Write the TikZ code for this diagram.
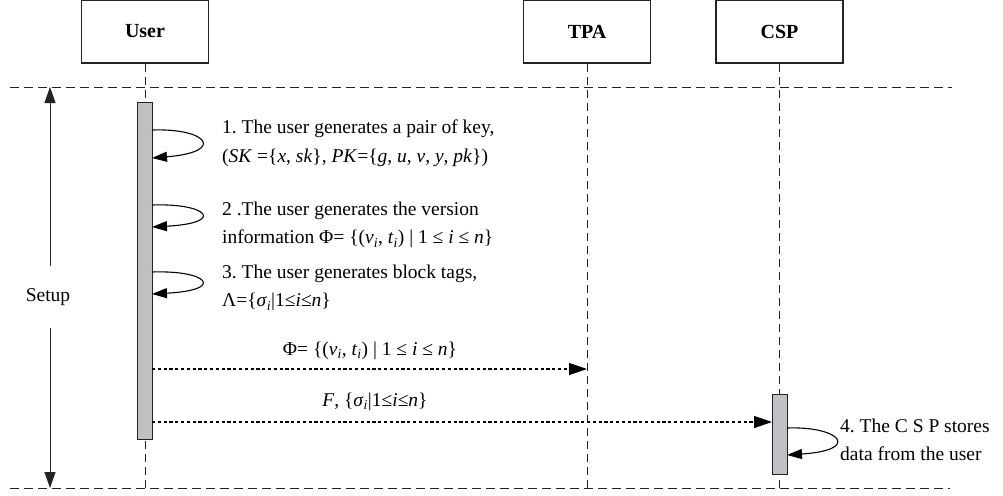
\documentclass[tikz,border=0pt]{standalone}
\usepackage{fontspec}
\setmainfont{Liberation Serif}
\usetikzlibrary{arrows.meta}
\frenchspacing
\newcommand{\isub}{\textsubscript{\textit{i}}}
\definecolor{barfill}{RGB}{192,192,196}
\definecolor{ink}{RGB}{35,35,35}
\tikzset{
  actor/.style={draw=ink, line width=1.2pt, fill=white, minimum width=127pt,
    minimum height=63pt, font=\fontsize{20}{22}\selectfont\bfseries},
  lifeline/.style={draw=ink, line width=0.9pt, dash pattern=on 8pt off 5pt},
  divider/.style={draw=ink, line width=0.9pt, dash pattern=on 9pt off 5pt},
  actbar/.style={draw=ink, line width=0.9pt, fill=barfill, minimum width=15pt,
    inner sep=0pt, anchor=north},
  selfloop/.style={draw=black, line width=1.1pt, -{Triangle[length=15pt,width=10pt]}},
  msg/.style={draw=black, line width=1.3pt, dash pattern=on 3.2pt off 2.6pt,
    -{Triangle[length=18pt,width=12pt]}},
  span/.style={draw=ink, line width=1pt, -{Triangle[length=16pt,width=11pt]}},
  note/.style={anchor=west, align=left, inner sep=0pt,
    font=\fontsize{19.5}{28.5}\selectfont},
  label/.style={inner sep=0pt, font=\fontsize{19.5}{22}\selectfont},
}
\begin{document}
\begin{tikzpicture}[x=1pt,y=-1pt]
\useasboundingbox (0,0) rectangle (1003,495);

% participants
\node[actor] (user) at (145,31.5) {User};
\node[actor] (tpa) at (587,31.5) {TPA};
\node[actor] (csp) at (779.5,31.5) {CSP};

% lifelines
\coordinate (userend) at (145,492);
\coordinate (tpaend) at (587,492);
\coordinate (cspend) at (779.5,492);
\draw[lifeline] (user.south) -- (userend);
\draw[lifeline] (tpa.south) -- (tpaend);
\draw[lifeline] (csp.south) -- (cspend);

% phase dividers
\coordinate (topL) at (10,87);
\coordinate (topR) at (952,87);
\coordinate (botL) at (10,488);
\coordinate (botR) at (950,488);
\draw[divider] (topL) -- (topR);
\draw[divider] (botL) -- (botR);

% phase span
\node[label] (setup) at (48,297) {Setup};
\coordinate (spanTop) at (50,87);
\coordinate (spanBot) at (50,488);
\draw[span] (setup.north -| spanTop) ++(0,-22) -- (spanTop);
\draw[span] (setup.south -| spanBot) ++(0,22) -- (spanBot);

% activation bars
\node[actbar, minimum height=337pt] (ubar) at (144.5,102) {};
\node[actbar, minimum height=80pt] (cbar) at (779.5,394) {};

% user self-messages
\coordinate (a1) at (152,130);  \coordinate (b1) at (152,158);
\coordinate (a2) at (152,205);  \coordinate (b2) at (152,227);
\coordinate (a3) at (152,272);  \coordinate (b3) at (152,294);
\draw[selfloop] (a1) .. controls (208,128) and (226,152) .. (b1);
\draw[selfloop] (a2) .. controls (208,203) and (226,223) .. (b2);
\draw[selfloop] (a3) .. controls (208,270) and (226,290) .. (b3);

\node[note] (n1) at (222,143) {1. The user generates a pair of key,\\
  (\textit{SK} =\{\textit{x}, \textit{sk}\}, \textit{PK}=\{\textit{g}, \textit{u}, \textit{v}, \textit{y}, \textit{pk}\})};
\node[note] (n2) at (222,225) {2 .The user generates the version\\
  information Φ= \{(\textit{v}\isub, \textit{t}\isub) | 1 ≤ \textit{i} ≤ \textit{n}\}};
\node[note] (n3) at (222,288) {3. The user generates block tags,\\
  Λ=\{\textit{σ}\isub|1≤\textit{i}≤\textit{n}\}};

% messages
\coordinate (m1s) at (152,369);  \coordinate (m1e) at (587,369);
\coordinate (m2s) at (152,422);  \coordinate (m2e) at (772,422);
\draw[msg] (m1s) -- (m1e);
\draw[msg] (m2s) -- (m2e);
\node[label] (l1) at (370,351) {Φ= \{(\textit{v}\isub, \textit{t}\isub) | 1 ≤ \textit{i} ≤ \textit{n}\}};
\node[label] (l2) at (375,402) {\textit{F}, \{\textit{σ}\isub|1≤\textit{i}≤\textit{n}\}};

% storage by the server
\coordinate (a4) at (787,428);  \coordinate (b4) at (787,455);
\draw[selfloop] (a4) .. controls (840,426) and (862,450) .. (b4);
\node[note] (n4) at (840,440) {4. The C S P stores\\data from the user};
\end{tikzpicture}
\end{document}
